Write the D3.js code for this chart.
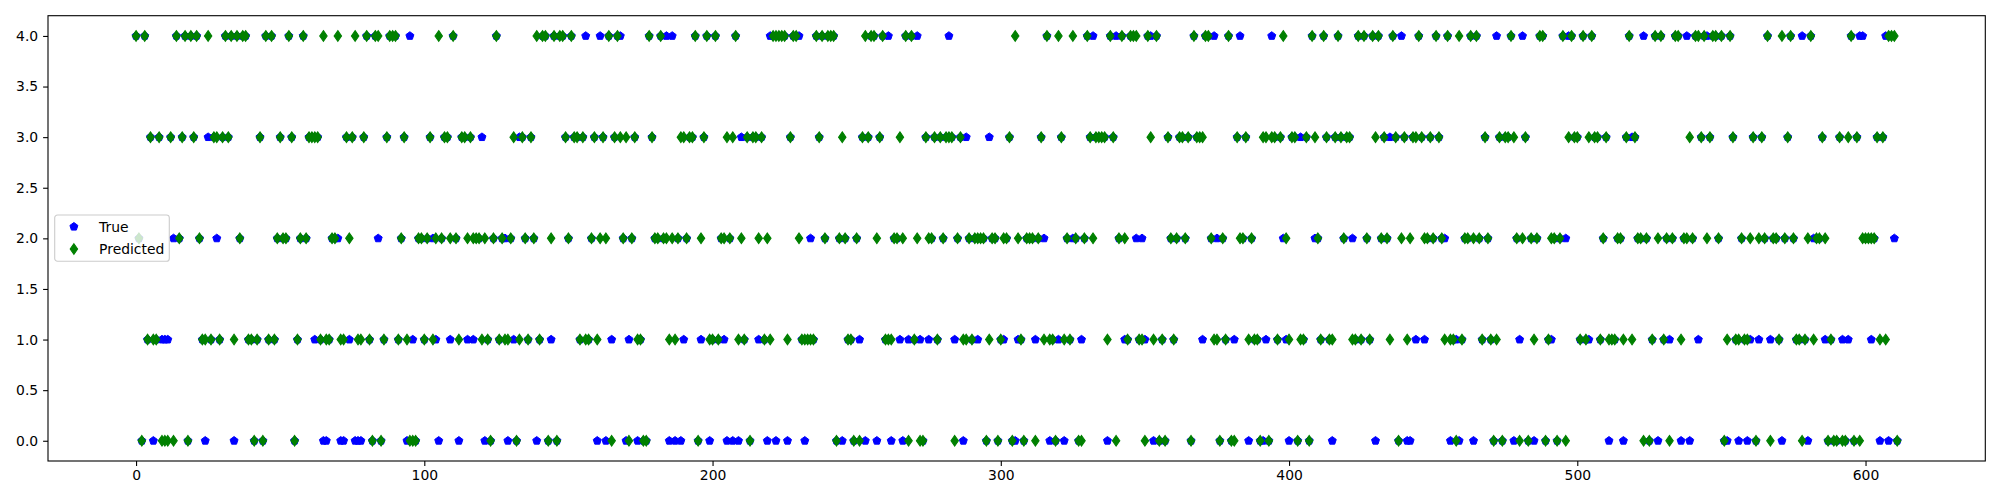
<!DOCTYPE html>
<html>
<head>
<meta charset="utf-8">
<script src="https://cdn.jsdelivr.net/npm/d3@7"></script>
<style>
  html, body { margin: 0; padding: 0; background: #ffffff; }
  svg { display: block; }
  text { font-family: "DejaVu Sans", sans-serif; }
</style>
</head>
<body>
<svg id="chart" width="2000" height="500"></svg>
<script>
// ---------------- data ----------------
const seriesNames = ["True", "Predicted"];
const xTicks = [0, 100, 200, 300, 400, 500, 600];
const yTicks = [0.0, 0.5, 1.0, 1.5, 2.0, 2.5, 3.0, 3.5, 4.0];

const trueVals = [
4,2,0,4,1,3,0,1,3,1, 1,1,3,2,4,2,3,4,0,4, 3,4,2,1,0,3,1,3,2,1, 3,4,3,4,0,4,2,4,4,1,
1,0,1,3,0,4,1,4,1,2, 3,2,2,4,3,0,1,2,4,2, 3,3,1,3,1,0,0,1,2,2, 2,0,0,3,1,3,0,0,0,3,
4,1,0,4,2,0,1,3,4,4, 4,1,2,3,0,4,1,0,2,2, 1,2,3,2,1,0,2,3,3,1, 4,2,0,3,3,1,3,1,2,2,
3,0,1,0,2,4,1,2,2,0, 2,1,0,3,3,2,1,3,2,0, 1,4,4,0,1,4,0,4,4,3, 2,4,3,3,1,3,4,1,2,3,
0,4,3,0,4,1,3,4,4,2, 0,1,2,3,0,1,0,0,4,3, 2,2,4,2,4,0,4,0,2,0, 1,2,3,3,4,0,1,3,4,0,
1,4,1,2,1,0,2,0,4,0, 3,1,3,0,3,3,1,3,1,0, 4,4,0,4,4,4,0,3,4,4, 4,1,0,1,2,1,4,3,4,2,
4,4,4,0,2,0,2,1,1,0, 2,1,3,0,3,4,4,0,3,4, 1,4,0,2,2,1,0,4,1,4, 1,4,1,0,3,1,2,3,1,3,
2,3,4,3,1,2,3,0,3,2, 1,2,1,2,2,0,3,2,2,0, 1,1,2,3,0,0,1,1,0,2, 2,2,1,2,3,2,4,0,1,0,
1,3,0,2,1,2,2,0,1,2, 4,3,4,3,3,3,3,0,4,3, 4,2,4,1,1,4,4,2,1,2, 1,4,4,0,4,0,1,0,3,2,
1,2,3,3,2,3,0,4,3,3, 1,4,4,2,4,2,0,2,1,4, 0,1,3,4,2,3,0,2,1,1, 0,0,1,0,4,3,1,3,2,1,
0,3,3,0,3,1,3,0,4,2, 2,1,4,3,1,0,3,4,3,2, 3,3,2,1,4,1,4,2,1,4, 0,4,2,3,2,3,4,3,0,4,
3,0,0,3,1,4,3,1,2,3, 2,4,3,2,2,4,0,1,1,0, 1,2,2,4,0,4,2,1,3,2, 1,0,4,3,0,3,3,4,0,2,
1,4,3,0,2,0,2,4,4,0, 1,1,2,0,2,4,2,4,4,3, 3,1,4,1,1,4,3,3,1,2, 3,0,1,1,2,2,0,3,4,3,
3,2,2,4,2,0,1,4,0,4, 1,2,1,2,4,4,0,2,4,0, 2,4,1,3,4,4,3,4,4,2, 4,0,0,4,3,1,0,2,1,0,
1,3,0,1,3,2,4,1,2,2, 1,0,2,3,4,2,1,1,4,1, 0,4,2,2,2,3,1,0,1,0, 0,3,1,0,1,4,0,3,4,4,
2,2,1,2,3,0,3,4,0,4, 2,0
];

const predVals = [
4,2,0,4,1,3,1,1,3,0, 0,0,3,0,4,2,3,4,0,4, 3,4,2,1,1,4,1,3,3,1, 3,4,3,4,1,4,2,4,4,1,
1,0,1,3,0,4,1,4,1,2, 3,2,2,4,3,0,1,2,4,2, 3,3,3,3,1,4,1,1,2,2, 4,1,1,3,2,3,4,1,1,3,
4,1,0,4,4,0,1,3,4,4, 4,1,2,3,1,0,0,0,2,2, 1,2,3,1,2,4,2,3,3,2, 4,2,1,3,3,2,3,2,2,2,
1,2,1,0,2,4,1,2,1,1, 2,3,0,1,3,2,1,3,2,4, 1,4,4,0,2,4,0,4,4,3, 2,4,3,3,1,3,1,1,2,3,
1,2,3,2,4,0,3,4,3,2, 3,0,2,3,1,1,0,0,4,3, 2,2,4,2,2,1,2,1,2,3, 3,2,3,3,4,0,2,3,4,1,
1,4,1,2,2,3,2,3,4,1, 2,1,3,0,3,3,2,3,1,2, 1,4,4,4,4,4,1,3,4,4, 2,1,1,1,1,1,4,3,4,2,
4,4,4,0,2,3,2,1,1,0, 2,0,3,4,3,4,4,2,3,4, 1,1,1,2,2,3,2,4,0,4, 1,2,0,0,3,2,2,3,1,3,
2,3,3,3,0,2,3,1,1,2, 1,2,2,2,2,0,1,2,2,0, 1,2,2,3,0,4,2,1,0,2, 2,2,0,2,3,1,4,1,1,0,
4,3,1,2,1,4,2,0,0,2, 4,3,2,3,3,3,3,1,4,3, 0,2,4,2,1,4,4,4,1,1, 0,4,3,1,4,0,1,0,3,2,
1,2,3,3,2,3,0,4,3,3, 3,4,4,2,1,1,0,2,1,4, 0,0,3,2,2,3,1,2,1,1, 0,3,3,0,3,3,1,3,4,2,
1,3,3,0,1,1,3,0,4,3, 2,1,4,3,1,1,3,4,3,2, 3,3,1,1,4,1,4,2,1,4, 3,4,2,3,2,1,4,3,0,2,
3,1,2,3,3,4,3,2,2,3, 2,4,3,2,1,4,1,1,0,4, 1,2,2,4,2,4,2,1,3,2, 1,0,1,3,0,3,3,4,3,2,
0,2,3,0,2,1,2,4,4,0, 1,2,2,0,2,4,0,3,4,3, 3,1,4,1,3,4,3,3,1,2, 3,1,1,1,2,2,1,3,4,1,
3,2,2,0,2,0,1,4,2,4, 1,2,0,2,4,4,1,2,2,3, 2,4,4,3,4,2,3,4,4,2, 4,0,1,4,3,1,1,2,1,1,
2,3,0,2,3,2,4,0,2,2, 1,4,2,3,4,2,1,1,0,1, 2,4,1,2,2,3,2,0,1,0, 0,3,0,0,3,4,0,3,0,2,
2,2,2,2,3,1,3,1,4,4, 4,0
];

// ---------------- layout ----------------
const W = 2000, H = 500;
const plot = { left: 48, right: 1985.3, top: 15.7, bottom: 461 };
const n = trueVals.length;
const xPad = 0.05 * (n - 1);
const x = d3.scaleLinear().domain([-xPad, (n - 1) + xPad]).range([plot.left, plot.right]);
const y = d3.scaleLinear().domain([-0.2, 4.2]).range([plot.bottom, plot.top]);

const svg = d3.select("#chart");
svg.append("rect").attr("width", W).attr("height", H).attr("fill", "#ffffff");

svg.append("rect")
  .attr("x", plot.left).attr("y", plot.top)
  .attr("width", plot.right - plot.left).attr("height", plot.bottom - plot.top)
  .attr("fill", "#ffffff");

// marker shapes (matplotlib 'p' and 'd' at markersize 6)
function pentagonPath(r) {
  const pts = d3.range(5).map(k => {
    const a = -Math.PI / 2 + k * 2 * Math.PI / 5;
    return [r * Math.cos(a), r * Math.sin(a)];
  });
  return "M" + pts.map(p => p[0].toFixed(2) + "," + p[1].toFixed(2)).join("L") + "Z";
}
function thinDiamondPath(hw, hh) {
  return `M0,${-hh}L${hw},0L0,${hh}L${-hw},0Z`;
}
const pentD = pentagonPath(4.2);
const diamD = thinDiamondPath(3.7, 5.3);

const idx = d3.range(n);
const gPlot = svg.append("g");

// True series (blue pentagons)
gPlot.append("g").selectAll("path")
  .data(idx)
  .join("path")
  .attr("d", pentD)
  .attr("transform", i => `translate(${x(i)},${y(trueVals[i])})`)
  .attr("fill", "#0000ff")
  .attr("stroke", "#0000ff")
  .attr("stroke-width", 1)
  .attr("stroke-linejoin", "miter");

// Predicted series (green thin diamonds)
gPlot.append("g").selectAll("path")
  .data(idx)
  .join("path")
  .attr("d", diamD)
  .attr("transform", i => `translate(${x(i)},${y(predVals[i])})`)
  .attr("fill", "#008000")
  .attr("stroke", "#008000")
  .attr("stroke-width", 1.1)
  .attr("stroke-linejoin", "miter");

// spines
svg.append("rect")
  .attr("x", plot.left).attr("y", plot.top)
  .attr("width", plot.right - plot.left).attr("height", plot.bottom - plot.top)
  .attr("fill", "none").attr("stroke", "#000000").attr("stroke-width", 1.1);

// x axis
const xAxis = d3.axisBottom(x).tickValues(xTicks).tickFormat(d3.format("d"))
  .tickSizeInner(4.9).tickSizeOuter(0).tickPadding(4.6);
const gx = svg.append("g").attr("transform", `translate(0,${plot.bottom})`).call(xAxis);
gx.select(".domain").remove();
gx.selectAll(".tick line").attr("stroke", "#000").attr("stroke-width", 1.1);
gx.selectAll(".tick text").attr("fill", "#000").attr("font-size", 13.9)
  .attr("font-family", "DejaVu Sans, sans-serif");

// y axis
const yAxis = d3.axisLeft(y).tickValues(yTicks).tickFormat(d3.format(".1f"))
  .tickSizeInner(4.9).tickSizeOuter(0).tickPadding(4.9);
const gy = svg.append("g").attr("transform", `translate(${plot.left},0)`).call(yAxis);
gy.select(".domain").remove();
gy.selectAll(".tick line").attr("stroke", "#000").attr("stroke-width", 1.1);
gy.selectAll(".tick text").attr("fill", "#000").attr("font-size", 13.9)
  .attr("font-family", "DejaVu Sans, sans-serif");

// legend
const leg = svg.append("g").attr("transform", "translate(54.7,215)");
leg.append("rect")
  .attr("x", 0).attr("y", 0).attr("width", 114.6).attr("height", 46.3)
  .attr("rx", 2.8).attr("ry", 2.8)
  .attr("fill", "#ffffff").attr("fill-opacity", 0.8)
  .attr("stroke", "#cccccc").attr("stroke-width", 1.1);
const legendItems = [
  { name: seriesNames[0], d: pentD, color: "#0000ff", sw: 1 },
  { name: seriesNames[1], d: diamD, color: "#008000", sw: 1.1 }
];
legendItems.forEach((it, k) => {
  const cy = 11.7 + k * 22.3;
  leg.append("path").attr("d", it.d)
    .attr("transform", `translate(19.2,${cy})`)
    .attr("fill", it.color).attr("stroke", it.color).attr("stroke-width", it.sw);
  leg.append("text")
    .attr("x", 44.4).attr("y", cy + 5)
    .attr("font-size", 13.9).attr("fill", "#000")
    .text(it.name);
});
</script>
</body>
</html>
